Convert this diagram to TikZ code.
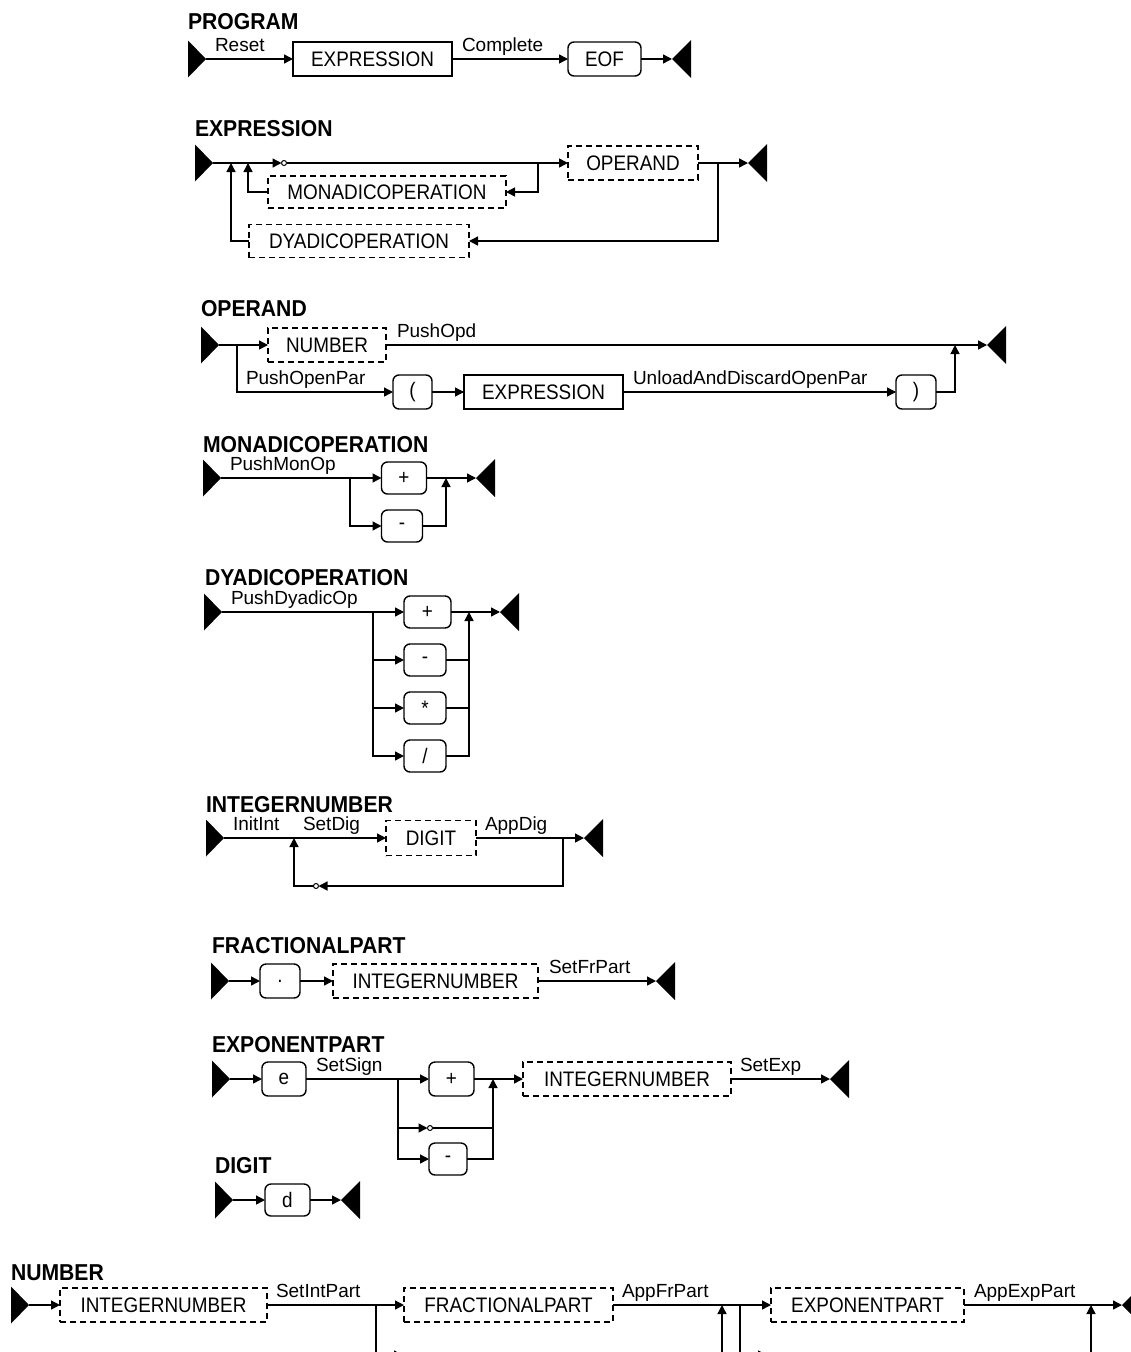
\documentclass[tikz,border=0pt]{standalone}
\usepackage{fontspec}
\setmainfont{Liberation Sans}
\newfontfamily\boxfam[FakeStretch=0.9]{Liberation Sans}
\newfontfamily\titlefam[FakeStretch=0.92]{Liberation Sans}
\usetikzlibrary{arrows.meta}
\begin{document}
\begin{tikzpicture}[x=1pt,y=-1pt,
  line width=1.4pt,
  every node/.style={inner sep=0pt, outer sep=0pt},
  title/.style={anchor=base west, font=\titlefam\fontsize{23}{23}\selectfont\bfseries},
  lbl/.style={anchor=base west, font=\fontsize{19}{19}\selectfont},
  bx/.style={draw, minimum height=34pt, font=\boxfam\fontsize{21}{21}\selectfont},
  dbx/.style={bx, dash pattern=on 6pt off 4pt},
  rbx/.style={bx, rounded corners=6pt},
  arr/.style={-{Triangle[length=9pt,width=9pt]}},
  junc/.style={circle, draw, line width=1pt, minimum size=5pt, inner sep=0pt},
  startT/.pic={\fill (-18,-18.5) -- (0,0) -- (-18,18.5) -- cycle;},
  endT/.pic={\fill (0,0) -- (19,-19) -- (19,19) -- cycle;}
]
\useasboundingbox (0,0) rectangle (1131,1352);
\fill[white] (0,0) rectangle (1131,1352);

% ---------------- PROGRAM
\node[title] (tPROG) at (188,29) {PROGRAM};
\coordinate (p0) at (206,59); \pic at (p0) {startT};
\node[bx, minimum width=159pt] (pE) at (372.5,59) {EXPRESSION};
\node[rbx, minimum width=73pt] (pEOF) at (604.5,59) {EOF};
\coordinate (p1) at (672,59); \pic at (p1) {endT};
\draw[arr] (p0) -- (pE.west);
\draw[arr] (pE.east) -- (pEOF.west);
\draw[arr] (pEOF.east) -- (p1);
\node[lbl] (lReset) at (215,51) {Reset};
\node[lbl] (lComplete) at (462,51) {Complete};

% ---------------- EXPRESSION
\node[title] (tEXPR) at (195,136) {EXPRESSION};
\coordinate (e0) at (213,163); \pic at (e0) {startT};
\node[junc] (ec) at (284,163) {};
\node[dbx, minimum width=130pt] (eOP) at (633,163) {OPERAND};
\coordinate (e1) at (748,163); \pic at (e1) {endT};
\node[dbx, minimum width=238pt, minimum height=32pt] (eMON) at (387,192) {MONADICOPERATION};
\node[dbx, minimum width=220pt, minimum height=33pt] (eDY) at (359,241) {DYADICOPERATION};
\coordinate (ej1) at (538,163);
\coordinate (ej2) at (718,163);
\coordinate (eu1) at (231,163);
\coordinate (eu2) at (248,163);
\draw[arr] (e0) -- (ec.west);
\draw[arr] (ec.east) -- (eOP.west);
\draw[arr] (eOP.east) -- (e1);
\draw[arr] (ej1) |- (eMON.east);
\draw[arr] (eMON.west) -| (eu2);
\draw[arr] (ej2) |- (eDY.east);
\draw[arr] (eDY.west) -| (eu1);

% ---------------- OPERAND
\node[title] (tOPER) at (201,316) {OPERAND};
\coordinate (o0) at (219,345); \pic at (o0) {startT};
\node[dbx, minimum width=118pt] (oNUM) at (327,345) {NUMBER};
\node[rbx, minimum width=39pt] (oLP) at (412.5,392) {(};
\node[bx, minimum width=159pt] (oEX) at (543.5,392) {EXPRESSION};
\node[rbx, minimum width=40pt] (oRP) at (916,392) {)};
\coordinate (o1) at (987,345); \pic at (o1) {endT};
\coordinate (oj) at (237,345);
\coordinate (ou) at (955,345);
\draw[arr] (o0) -- (oNUM.west);
\draw[arr] (oj) |- (oLP.west);
\draw[arr] (oLP.east) -- (oEX.west);
\draw[arr] (oEX.east) -- (oRP.west);
\draw[arr] (oRP.east) -| (ou);
\draw[arr] (oNUM.east) -- (o1);
\node[lbl] (lPushOpd) at (397,337) {PushOpd};
\node[lbl] (lPushOpenPar) at (246,384) {PushOpenPar};
\node[lbl] (lUnload) at (633,384) {UnloadAndDiscardOpenPar};

% ---------------- MONADICOPERATION
\node[title] (tMON) at (203,452) {MONADICOPERATION};
\coordinate (m0) at (221,478); \pic at (m0) {startT};
\node[rbx, minimum width=45pt, minimum height=32pt] (mP) at (404,478) {+};
\node[rbx, minimum width=41pt, minimum height=32pt] (mM) at (402,526) {-};
\coordinate (m1) at (476,478); \pic at (m1) {endT};
\coordinate (mj) at (350,478);
\coordinate (mu) at (446,478);
\draw[arr] (m0) -- (mP.west);
\draw[arr] (mj) |- (mM.west);
\draw[arr] (mM.east) -| (mu);
\draw[arr] (mP.east) -- (m1);
\node[lbl] (lPushMonOp) at (230,470) {PushMonOp};

% ---------------- DYADICOPERATION
\node[title] (tDY) at (205,585) {DYADICOPERATION};
\coordinate (d0) at (222,612); \pic at (d0) {startT};
\node[rbx, minimum width=47pt, minimum height=32pt] (dP) at (427.5,612) {+};
\node[rbx, minimum width=42pt, minimum height=32pt] (dM) at (425,660) {-};
\node[rbx, minimum width=42pt, minimum height=32pt] (dT) at (425,708) {*};
\node[rbx, minimum width=42pt, minimum height=32pt] (dD) at (425,756) {/};
\coordinate (d1) at (500,612); \pic at (d1) {endT};
\coordinate (dj) at (373,612);
\coordinate (du) at (469,612);
\draw[arr] (d0) -- (dP.west);
\draw[arr] (dj) |- (dM.west);
\draw[arr] (dj) |- (dT.west);
\draw[arr] (dj) |- (dD.west);
\draw (dM.east) -- (dM.east -| du);
\draw (dT.east) -- (dT.east -| du);
\draw[arr] (dD.east) -| (du);
\draw[arr] (dP.east) -- (d1);
\node[lbl] (lPushDy) at (231,604) {PushDyadicOp};

% ---------------- INTEGERNUMBER
\node[title] (tINT) at (206,812) {INTEGERNUMBER};
\coordinate (i0) at (224,838); \pic at (i0) {startT};
\node[dbx, minimum width=90pt, minimum height=35pt] (iD) at (431,838) {DIGIT};
\coordinate (i1) at (584,838); \pic at (i1) {endT};
\coordinate (ij) at (563,838);
\coordinate (iu) at (294,838);
\node[junc] (ic) at (316,886) {};
\draw[arr] (i0) -- (iD.west);
\draw[arr] (iD.east) -- (i1);
\draw[arr] (ij) |- (ic.east);
\draw[arr] (ic.west) -| (iu);
\node[lbl] (lInitInt) at (233,830) {InitInt};
\node[lbl] (lSetDig) at (303,830) {SetDig};
\node[lbl] (lAppDig) at (485,830) {AppDig};

% ---------------- FRACTIONALPART
\node[title] (tFR) at (212,953) {FRACTIONALPART};
\coordinate (f0) at (229,981); \pic at (f0) {startT};
\node[rbx, minimum width=40pt] (fDot) at (280,981) {.};
\node[dbx, minimum width=205pt] (fI) at (435.5,981) {INTEGERNUMBER};
\coordinate (f1) at (656,981); \pic at (f1) {endT};
\draw[arr] (f0) -- (fDot.west);
\draw[arr] (fDot.east) -- (fI.west);
\draw[arr] (fI.east) -- (f1);
\node[lbl] (lSetFr) at (549,973) {SetFrPart};

% ---------------- EXPONENTPART
\node[title] (tEXP) at (212,1052) {EXPONENTPART};
\coordinate (x0) at (230,1079); \pic at (x0) {startT};
\node[rbx, minimum width=44pt] (xE) at (284,1079) {e};
\node[rbx, minimum width=45pt] (xP) at (451.5,1079) {+};
\node[junc] (xc) at (430,1128) {};
\node[rbx, minimum width=38pt, minimum height=32pt] (xM) at (448,1159) {-};
\node[dbx, minimum width=208pt] (xI) at (627,1079) {INTEGERNUMBER};
\coordinate (x1) at (830,1079); \pic at (x1) {endT};
\coordinate (xj) at (398,1079);
\coordinate (xu) at (493,1079);
\draw[arr] (x0) -- (xE.west);
\draw[arr] (xE.east) -- (xP.west);
\draw[arr] (xj) |- (xc.west);
\draw[arr] (xj) |- (xM.west);
\draw (xc.east) -- (xc.east -| xu);
\draw[arr] (xM.east) -| (xu);
\draw[arr] (xP.east) -- (xI.west);
\draw[arr] (xI.east) -- (x1);
\node[lbl] (lSetSign) at (316,1071) {SetSign};
\node[lbl] (lSetExp) at (740,1071) {SetExp};

% ---------------- DIGIT
\node[title] (tDIG) at (215,1173) {DIGIT};
\coordinate (g0) at (233,1200); \pic at (g0) {startT};
\node[rbx, minimum width=45pt, minimum height=32pt] (gD) at (287.5,1200) {d};
\coordinate (g1) at (341,1200); \pic at (g1) {endT};
\draw[arr] (g0) -- (gD.west);
\draw[arr] (gD.east) -- (g1);

% ---------------- NUMBER
\node[title] (tNUM) at (11,1280) {NUMBER};
\coordinate (n0) at (29,1305); \pic at (n0) {startT};
\node[dbx, minimum width=207pt] (nI) at (163.5,1305) {INTEGERNUMBER};
\node[dbx, minimum width=209pt] (nF) at (508.5,1305) {FRACTIONALPART};
\node[dbx, minimum width=193pt] (nE) at (867.5,1305) {EXPONENTPART};
\coordinate (n1) at (1122,1305); \pic at (n1) {endT};
\coordinate (nj1) at (376,1305);
\coordinate (nb1) at (403,1355);
\coordinate (nu1) at (722,1305);
\coordinate (nd1) at (722,1370);
\coordinate (nj2) at (740,1305);
\coordinate (nb2) at (767,1355);
\coordinate (nu2) at (1091,1305);
\coordinate (nd2) at (1091,1370);
\draw[arr] (n0) -- (nI.west);
\draw[arr] (nI.east) -- (nF.west);
\draw[arr] (nF.east) -- (nE.west);
\draw[arr] (nE.east) -- (n1);
\draw[arr] (nj1) |- (nb1);
\draw[arr] (nj2) |- (nb2);
\draw[arr] (nd1) -- (nu1);
\draw[arr] (nd2) -- (nu2);
\node[lbl] (lSetInt) at (276,1297) {SetIntPart};
\node[lbl] (lAppFr) at (622,1297) {AppFrPart};
\node[lbl] (lAppExp) at (974,1297) {AppExpPart};
\end{tikzpicture}
\end{document}
